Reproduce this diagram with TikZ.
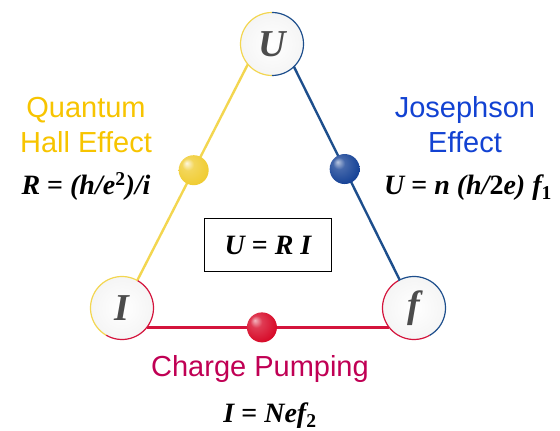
\documentclass[tikz,border=0pt]{standalone}
\usepackage{fontspec}
\newfontfamily\lblfont{Liberation Sans}
\newfontfamily\fmlfont{Liberation Serif}
\usepackage{xcolor}
\usepackage{tikz}
\usetikzlibrary{shapes.geometric, positioning, calc}
\definecolor{qhetext}{RGB}{247,196,0}
\definecolor{qheline}{RGB}{243,214,80}
\definecolor{qheball}{RGB}{240,204,50}
\definecolor{jostext}{RGB}{18,66,210}
\definecolor{josline}{RGB}{29,78,140}
\definecolor{josball}{RGB}{22,66,150}
\definecolor{cptext}{RGB}{192,0,84}
\definecolor{cpline}{RGB}{212,20,60}
\definecolor{cpball}{RGB}{215,10,40}
\pgfdeclareradialshading{qheshade}{\pgfpoint{-12bp}{12bp}}{color(0bp)=(qheball!15!white);
  color(10bp)=(qheball!80!white); color(30bp)=(qheball); color(50bp)=(qheball!75!black)}
\pgfdeclareradialshading{josshade}{\pgfpoint{-12bp}{12bp}}{color(0bp)=(josball!30!white);
  color(10bp)=(josball!80!white); color(30bp)=(josball); color(50bp)=(josball!70!black)}
\pgfdeclareradialshading{cpshade}{\pgfpoint{-12bp}{12bp}}{color(0bp)=(cpball!30!white);
  color(10bp)=(cpball!80!white); color(30bp)=(cpball); color(50bp)=(cpball!70!black)}
\newcommand{\uprm}[1]{{\upshape #1}}
\tikzstyle{station} = [circle, minimum size=63pt, inner sep=0pt, outer sep=0pt,
    inner color=white, outer color=black!4, text=black!70,
    font=\fmlfont\bfseries\itshape\fontsize{38}{38}\selectfont]
\tikzstyle{bead} = [circle, minimum size=30pt, inner sep=0pt]
\tikzstyle{effectname} = [anchor=base, inner sep=0pt, align=center,
    font=\lblfont\fontsize{29}{35}\selectfont]
\tikzstyle{formula} = [anchor=base, inner sep=0pt,
    font=\fmlfont\bfseries\itshape\fontsize{28}{28}\selectfont]
\tikzstyle{link} = [line width=2.4pt]
\tikzstyle{rim} = [line width=1.2pt]

\begin{document}
\begin{tikzpicture}[x=1pt, y=1pt]
  \useasboundingbox (0,0) rectangle (560,431);
  % Corners
  \node[station](U) at (272,387){U};
  \node[station](I) at (122,123){I};
  \node[station](f) at (414,123){f};

  % Sides with beads
  \draw[link, qheline](U.220) -- (I.61)
    node[bead, pos=0.49, shading=qheshade](qhebead){};
  \draw[link, josline](U.-46) -- (f.117)
    node[bead, pos=0.48, shading=josshade](josbead){};
  \draw[link, cpline](I.-38) -- (f.218)
    node[bead, pos=0.475, shading=cpshade](cpbead){};

  % Rims
  \draw[rim, qheline](U.90) arc[start angle=90, end angle=270, radius=31.5pt];
  \draw[rim, josline](U.-90) arc[start angle=-90, end angle=90, radius=31.5pt];
  \draw[rim, qheline](I.60) arc[start angle=60, end angle=240, radius=31.5pt];
  \draw[rim, cpline](I.240) arc[start angle=240, end angle=420, radius=31.5pt];
  \draw[rim, cpline](f.120) arc[start angle=120, end angle=300, radius=31.5pt];
  \draw[rim, josline](f.-60) arc[start angle=-60, end angle=120, radius=31.5pt];

  % Effects
  \node[effectname, text=qhetext](qhe) at (86,278){Quantum\\Hall Effect};
  \node[formula](qhelaw) at (86,236){R \uprm{=} (h/e\textsuperscript{\uprm{2}})/i};
  \node[effectname, text=jostext](jos) at (465,278){Josephson\\Effect};
  \node[formula](joslaw) at (468,236){U \uprm{=} n (h/\uprm{2}e) f\textsubscript{\uprm{1}}};
  \node[effectname, text=cptext](cp) at (260,54){Charge Pumping};
  \node[formula](cplaw) at (270,8){I \uprm{=} Nef\textsubscript{\uprm{2}}};

  % Ohm's law
  \node[draw, line width=1.2pt, minimum width=127pt, minimum height=53pt,
    font=\fmlfont\bfseries\itshape\fontsize{28}{28}\selectfont](ohm) at (268,186)
    {U \uprm{=} R I};
\end{tikzpicture}
\end{document}
